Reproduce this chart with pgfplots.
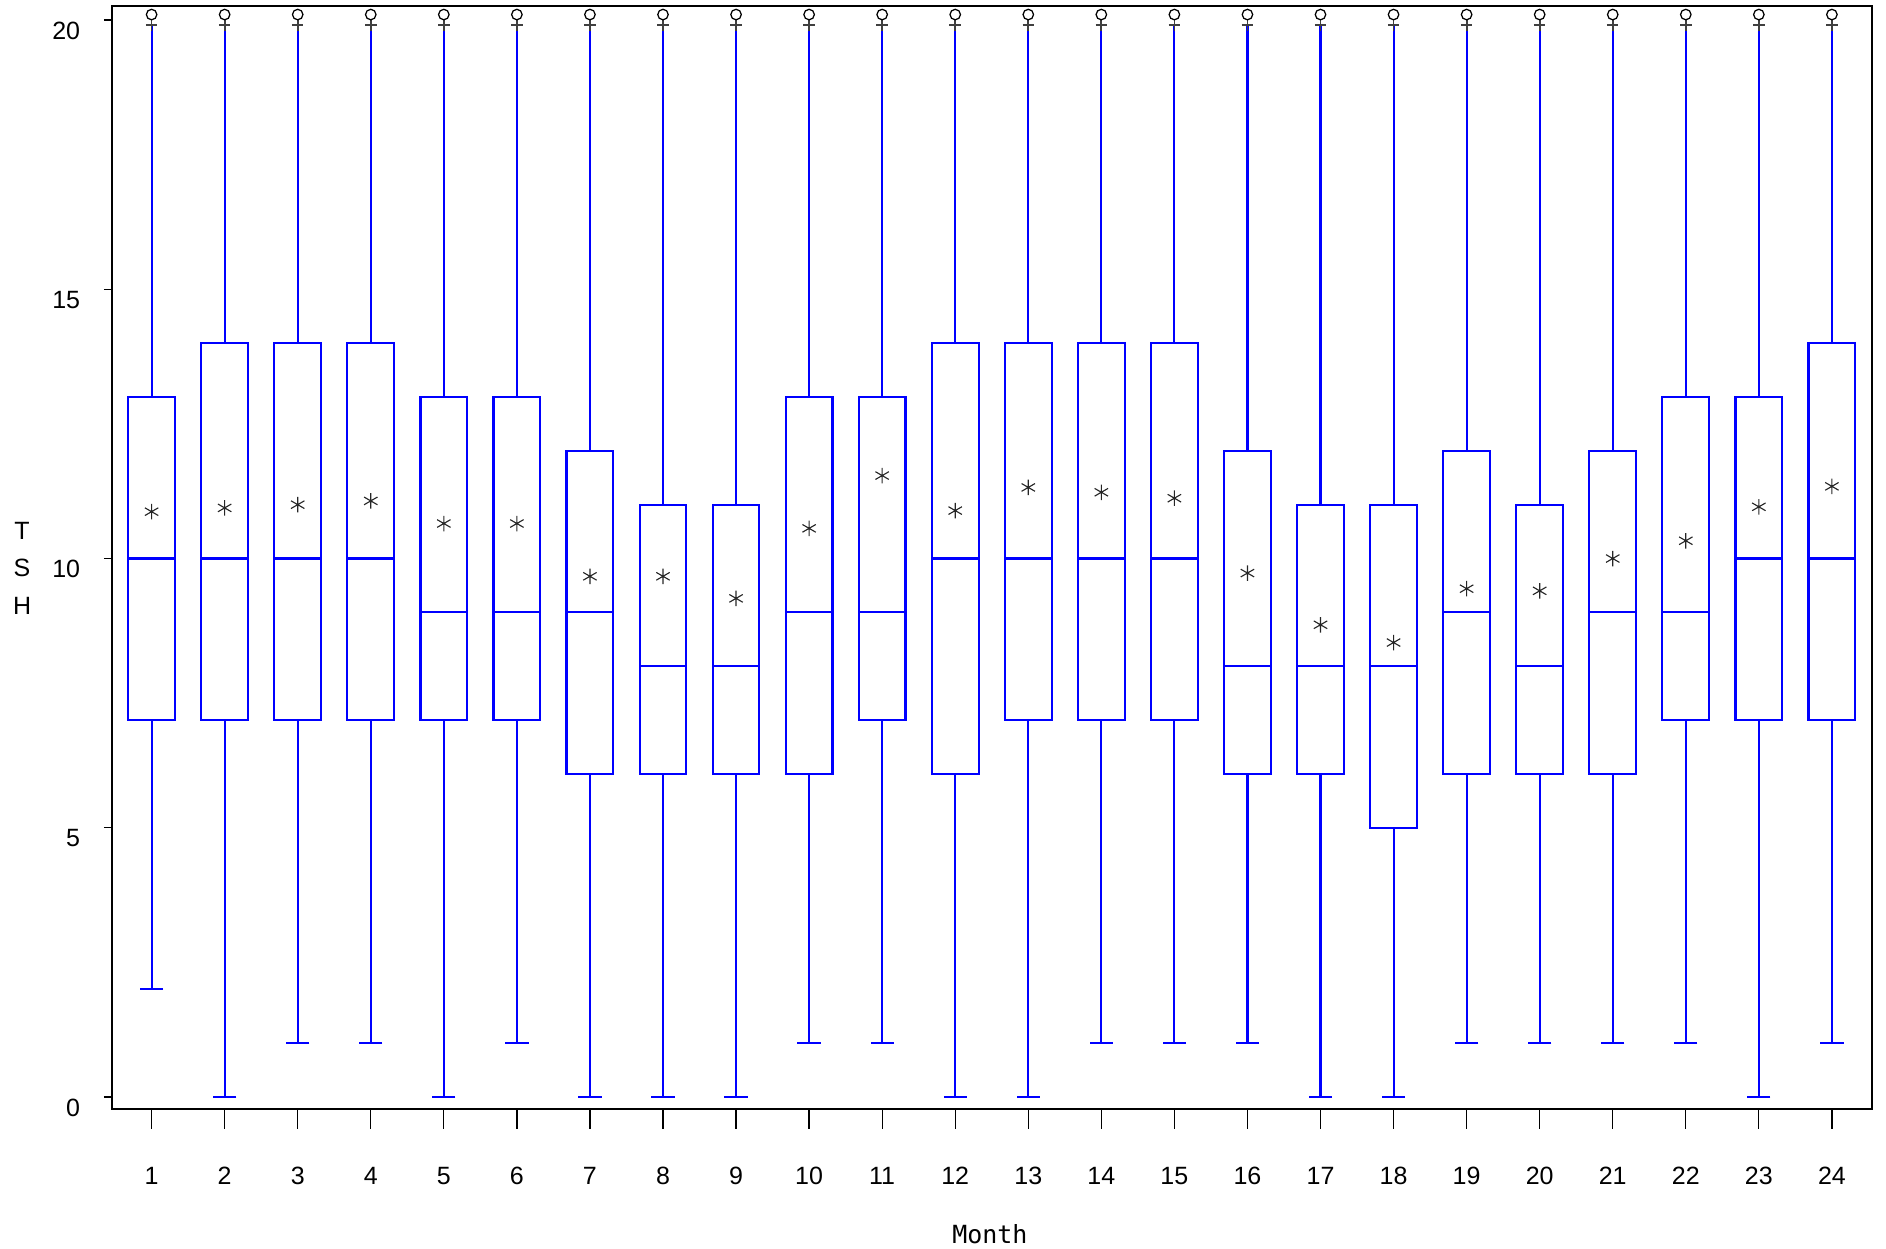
\documentclass[border=0pt]{standalone}
\usepackage{pgfplots}
\pgfplotsset{compat=1.18}
\usepackage{pgfplotstable}
\usepgfplotslibrary{statistics}
\usepackage{fontspec}
\setmainfont{Liberation Sans}
\newfontfamily\monofont{DejaVu Sans Mono}
\definecolor{boxblue}{RGB}{0,0,255}

% x q1 med q3 low mean lerr uerr
\pgfplotstableread{
x  q1 med q3 low mean  lerr uerr
1  7  10  13 2   10.87 5    6.9
2  7  10  14 0   10.94 7    5.9
3  7  10  14 1   11.00 6    5.9
4  7  10  14 1   11.07 6    5.9
5  7  9   13 0   10.65 7    6.9
6  7  9   13 1   10.65 6    6.9
7  6  9   12 0   9.67  6    7.9
8  6  8   11 0   9.67  6    8.9
9  6  8   11 0   9.26  6    8.9
10 6  9   13 1   10.56 5    6.9
11 7  9   13 1   11.54 6    6.9
12 6  10  14 0   10.89 6    5.9
13 7  10  14 0   11.32 7    5.9
14 7  10  14 1   11.23 6    5.9
15 7  10  14 1   11.12 6    5.9
16 6  8   12 1   9.73  5    7.9
17 6  8   11 0   8.77  6    8.9
18 5  8   11 0   8.44  5    8.9
19 6  9   12 1   9.44  5    7.9
20 6  8   11 1   9.40  5    8.9
21 6  9   12 1   10.00 5    7.9
22 7  9   13 1   10.33 6    6.9
23 7  10  13 0   10.96 7    6.9
24 7  10  14 1   11.34 6    5.9
}\data

\pgfplotstableread{
x  y
1  20.1
2  20.1
3  20.1
4  20.1
5  20.1
6  20.1
7  20.1
8  20.1
9  20.1
10 20.1
11 20.1
12 20.1
13 20.1
14 20.1
15 20.1
16 20.1
17 20.1
18 20.1
19 20.1
20 20.1
21 20.1
22 20.1
23 20.1
24 20.1
}\outl

\pgfplotsset{mybox/.style={boxblue, line width=0.85pt, boxplot/draw direction=y, boxplot/box extend=0.64, boxplot/whisker extend=0.32}}

\begin{document}
\begin{tikzpicture}
\useasboundingbox (-44.8pt,-55.8pt) rectangle (709.6pt,443.8pt);
\begin{axis}[
  scale only axis, width=704pt, height=441.2pt,
  xmin=0.458, xmax=24.549, ymin=-0.23, ymax=20.25,
  axis line style={line width=0.8pt},
  tick align=outside,
  xtick pos=bottom, ytick pos=left,
  xtick={1,...,24}, ytick={0,5,10,15,20},
  xtick style={black, line width=0.5pt, /pgfplots/major tick length=7.7pt},
  ytick style={black, line width=0.5pt, /pgfplots/major tick length=3.2pt},
  /pgf/number format/assume math mode=true,
  xticklabel style={font=\fontsize{10}{12}\selectfont, anchor=base, yshift=-25.7pt},
  yticklabel style={font=\fontsize{10}{12}\selectfont, anchor=north east, inner sep=0pt, xshift=-8.3pt, yshift=-0.5pt},
  xlabel={Month},
  every axis x label/.style={at={(axis description cs:0.4988,0)}, yshift=-50pt, anchor=center, font=\monofont\fontsize{10}{12}\selectfont},
  ylabel={T\\S\\H},
  every axis y label/.style={at={(axis description cs:-0.0511,0.491)}, anchor=center, align=center, font=\fontsize{10}{15}\selectfont},
  clip=false,
]
% boxes and medians
\addplot[mybox, boxplot prepared={draw position=1, lower whisker=7, lower quartile=7, median=10, upper quartile=13, upper whisker=13}] coordinates {};
\addplot[mybox, boxplot prepared={draw position=2, lower whisker=7, lower quartile=7, median=10, upper quartile=14, upper whisker=14}] coordinates {};
\addplot[mybox, boxplot prepared={draw position=3, lower whisker=7, lower quartile=7, median=10, upper quartile=14, upper whisker=14}] coordinates {};
\addplot[mybox, boxplot prepared={draw position=4, lower whisker=7, lower quartile=7, median=10, upper quartile=14, upper whisker=14}] coordinates {};
\addplot[mybox, boxplot prepared={draw position=5, lower whisker=7, lower quartile=7, median=9, upper quartile=13, upper whisker=13}] coordinates {};
\addplot[mybox, boxplot prepared={draw position=6, lower whisker=7, lower quartile=7, median=9, upper quartile=13, upper whisker=13}] coordinates {};
\addplot[mybox, boxplot prepared={draw position=7, lower whisker=6, lower quartile=6, median=9, upper quartile=12, upper whisker=12}] coordinates {};
\addplot[mybox, boxplot prepared={draw position=8, lower whisker=6, lower quartile=6, median=8, upper quartile=11, upper whisker=11}] coordinates {};
\addplot[mybox, boxplot prepared={draw position=9, lower whisker=6, lower quartile=6, median=8, upper quartile=11, upper whisker=11}] coordinates {};
\addplot[mybox, boxplot prepared={draw position=10, lower whisker=6, lower quartile=6, median=9, upper quartile=13, upper whisker=13}] coordinates {};
\addplot[mybox, boxplot prepared={draw position=11, lower whisker=7, lower quartile=7, median=9, upper quartile=13, upper whisker=13}] coordinates {};
\addplot[mybox, boxplot prepared={draw position=12, lower whisker=6, lower quartile=6, median=10, upper quartile=14, upper whisker=14}] coordinates {};
\addplot[mybox, boxplot prepared={draw position=13, lower whisker=7, lower quartile=7, median=10, upper quartile=14, upper whisker=14}] coordinates {};
\addplot[mybox, boxplot prepared={draw position=14, lower whisker=7, lower quartile=7, median=10, upper quartile=14, upper whisker=14}] coordinates {};
\addplot[mybox, boxplot prepared={draw position=15, lower whisker=7, lower quartile=7, median=10, upper quartile=14, upper whisker=14}] coordinates {};
\addplot[mybox, boxplot prepared={draw position=16, lower whisker=6, lower quartile=6, median=8, upper quartile=12, upper whisker=12}] coordinates {};
\addplot[mybox, boxplot prepared={draw position=17, lower whisker=6, lower quartile=6, median=8, upper quartile=11, upper whisker=11}] coordinates {};
\addplot[mybox, boxplot prepared={draw position=18, lower whisker=5, lower quartile=5, median=8, upper quartile=11, upper whisker=11}] coordinates {};
\addplot[mybox, boxplot prepared={draw position=19, lower whisker=6, lower quartile=6, median=9, upper quartile=12, upper whisker=12}] coordinates {};
\addplot[mybox, boxplot prepared={draw position=20, lower whisker=6, lower quartile=6, median=8, upper quartile=11, upper whisker=11}] coordinates {};
\addplot[mybox, boxplot prepared={draw position=21, lower whisker=6, lower quartile=6, median=9, upper quartile=12, upper whisker=12}] coordinates {};
\addplot[mybox, boxplot prepared={draw position=22, lower whisker=7, lower quartile=7, median=9, upper quartile=13, upper whisker=13}] coordinates {};
\addplot[mybox, boxplot prepared={draw position=23, lower whisker=7, lower quartile=7, median=10, upper quartile=13, upper whisker=13}] coordinates {};
\addplot[mybox, boxplot prepared={draw position=24, lower whisker=7, lower quartile=7, median=10, upper quartile=14, upper whisker=14}] coordinates {};
% lower whiskers with caps
\addplot[only marks, mark=*, mark size=0pt, mark options={draw=none, fill=none},
  error bars/.cd, y dir=minus, y explicit, error mark=|,
  error bar style={boxblue, line width=0.85pt},
  error mark options={boxblue, line width=0.85pt, mark size=4.65pt}]
  table[x=x, y=q1, y error minus=lerr] {\data};
% upper whiskers, no caps
\addplot[only marks, mark=*, mark size=0pt, mark options={draw=none, fill=none},
  error bars/.cd, y dir=plus, y explicit,
  error bar style={boxblue, line width=0.85pt}, error mark=none]
  table[x=x, y=q3, y error plus=uerr] {\data};
% upper caps (dark)
\addplot[only marks, mark=+, mark size=2.3pt, mark options={draw=black!75, line width=0.7pt}]
  table[x=x, y expr=19.9] {\data};
% outliers
\addplot[only marks, mark=o, mark size=2.1pt, mark options={draw=black, line width=0.5pt, fill=none}]
  table[x=x, y=y] {\outl};
% means
\addplot[only marks, mark=asterisk, mark size=3.1pt, mark options={draw=black!85, line width=0.45pt}]
  table[x=x, y=mean] {\data};
\end{axis}
\end{tikzpicture}
\end{document}
